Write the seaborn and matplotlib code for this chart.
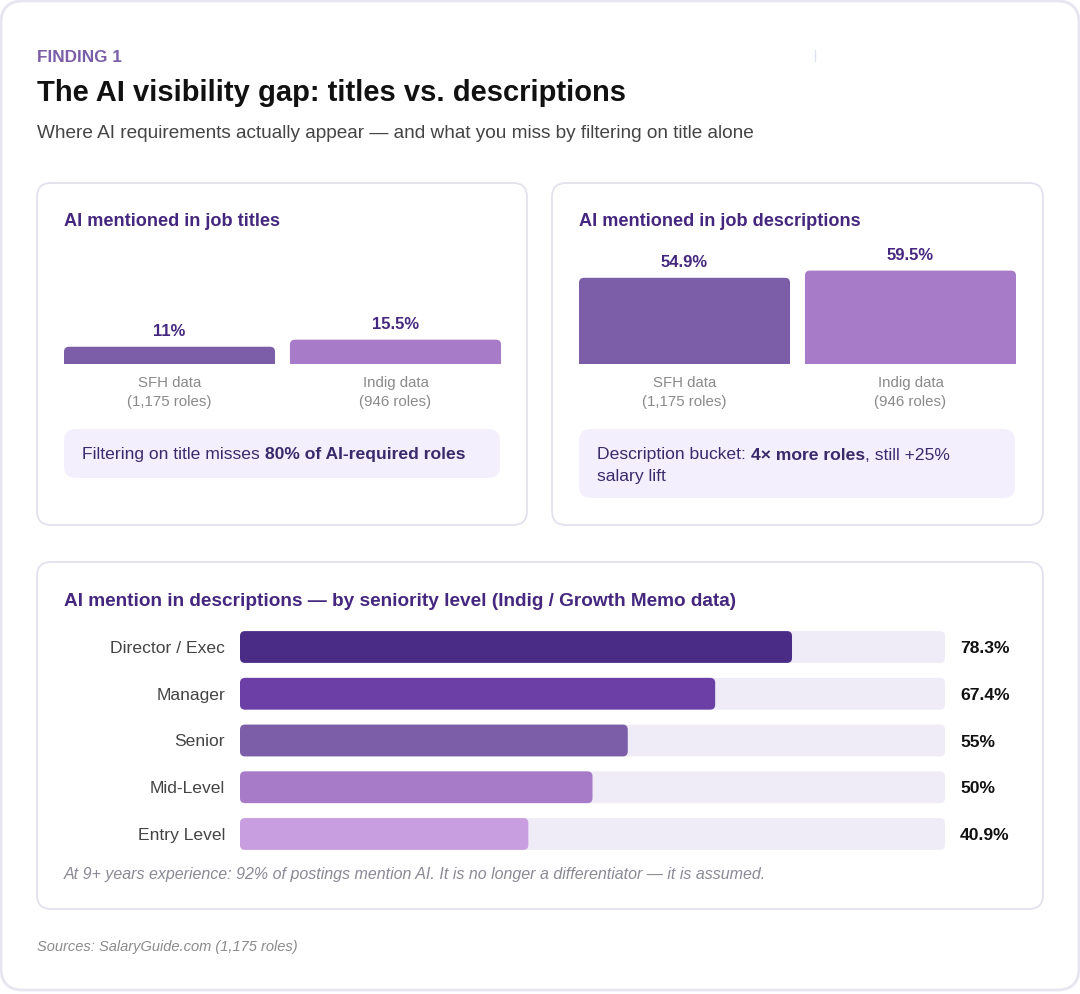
import matplotlib
matplotlib.use("Agg")
import matplotlib.pyplot as plt
import seaborn as sns
import pandas as pd
from matplotlib.patches import FancyBboxPatch, Rectangle

# Data
sources = ["SFH data", "Indig data"]
source_roles = ["(1,175 roles)", "(946 roles)"]
title_pct = [11, 15.5]
desc_pct = [54.9, 59.5]
title_labels = ["11%", "15.5%"]
desc_labels = ["54.9%", "59.5%"]

levels = ["Director / Exec", "Manager", "Senior", "Mid-Level", "Entry Level"]
level_pct = [78.3, 67.4, 55, 50, 40.9]
level_labels = ["78.3%", "67.4%", "55%", "50%", "40.9%"]
track_max = 100

# Colours
source_colors = ["#7b5ea7", "#a77bc8"]
level_colors = ["#4a2c87", "#6b3fa5", "#7b5ea7", "#a77bc8", "#c89ee0"]
track_color = "#efebf7"
dark_purple = "#45277f"
callout_text = "#3a2a6b"
border = "#e4e1ee"

sns.set_theme(style="white")
plt.rcParams["font.family"] = ["Liberation Sans", "DejaVu Sans"]

W, H = 1080, 994
fig = plt.figure(figsize=(W / 100, H / 100), dpi=100)
fig.patch.set_facecolor("white")

# background axes in pixel coordinates
bg = fig.add_axes([0, 0, 1, 1])
bg.set_xlim(0, W)
bg.set_ylim(H, 0)
bg.axis("off")
DY = 2  # small nudge so centred text sits like the reference


def card(x0, y0, x1, y1, r, fc="white", ec=border, lw=1.3):
    bg.add_patch(FancyBboxPatch((x0 + r, y0 + r), x1 - x0 - 2 * r, y1 - y0 - 2 * r,
                                boxstyle=f"round,pad={r}", fc=fc, ec=ec, lw=lw))


def px_axes(x0, y0, x1, y1):
    return fig.add_axes([x0 / W, 1 - y1 / H, (x1 - x0) / W, (y1 - y0) / H])


def label(x, y, s, **kw):
    return bg.text(x, y + DY, s, va="center", **kw)


def round_bars(ax, r_px, ux, uy, square_bottom=False):
    # replace seaborn's rectangles with rounded ones of the same geometry
    for p in list(ax.patches):
        if not isinstance(p, Rectangle):
            continue
        x, y, w, h = p.get_x(), p.get_y(), p.get_width(), p.get_height()
        if h < 0:
            y, h = y + h, -h
        c = p.get_facecolor()
        z = p.get_zorder()
        p.remove()
        r = r_px * ux
        ax.add_patch(FancyBboxPatch((x + r, y + r_px * uy), w - 2 * r, h - 2 * r_px * uy,
                                    boxstyle=f"round,pad={r}", mutation_aspect=uy / ux,
                                    fc=c, ec="none", zorder=z))
        if square_bottom:
            ax.add_patch(Rectangle((x, y), w, h / 2, fc=c, ec="none", zorder=z))


# outer frame
card(1, 1, 1079, 990, 22, ec="#e8e5f0", lw=2)

# header
label(37, 56, "FINDING 1", color="#7b5ea7", fontsize=12.3, fontweight="bold")
label(37, 91, "The AI visibility gap: titles vs. descriptions", color="#111111",
      fontsize=21, fontweight="bold")
label(37, 131, "Where AI requirements actually appear \u2014 and what you miss by filtering on title alone",
      color="#444444", fontsize=13.7)
bg.plot([815, 815], [50, 61], color="#dde3f0", lw=1)

# cards
card(37, 183, 527, 525, 14)
card(552, 183, 1043, 525, 14)
card(37, 562, 1043, 909, 14)

label(64, 219, "AI mentioned in job titles", color=dark_purple, fontsize=13.1, fontweight="bold")
label(579, 219, "AI mentioned in job descriptions", color=dark_purple, fontsize=13.1,
      fontweight="bold")
label(64, 599, "AI mention in descriptions \u2014 by seniority level (Indig / Growth Memo data)",
      color=dark_purple, fontsize=13.7, fontweight="bold")

# top bar charts
px_per_pct = 1.57
top_h = 124
for x0, vals, labs in [(64, title_pct, title_labels), (579, desc_pct, desc_labels)]:
    ax = px_axes(x0, 364 - top_h, x0 + 437, 364)
    df = pd.DataFrame({"source": sources, "pct": vals})
    sns.barplot(data=df, x="source", y="pct", hue="source", palette=source_colors,
                width=0.934, legend=False, ax=ax, saturation=1)
    ax.set_xlim(-0.467, 1.467)
    ax.set_ylim(0, top_h / px_per_pct)
    ax.axis("off")
    round_bars(ax, 5, 1.934 / 437, (top_h / px_per_pct) / top_h, square_bottom=True)
    for i, (v, lab) in enumerate(zip(vals, labs)):
        ax.annotate(lab, (i, v), xytext=(0, 15 * 0.72), textcoords="offset points",
                    ha="center", va="center", fontsize=12, fontweight="bold", color=dark_purple)
        ax.annotate(sources[i], (i, 0), xytext=(0, -19 * 0.72), textcoords="offset points",
                    ha="center", va="center", fontsize=10.8, color="#8a8a8a", annotation_clip=False)
        ax.annotate(source_roles[i], (i, 0), xytext=(0, -38 * 0.72), textcoords="offset points",
                    ha="center", va="center", fontsize=10.8, color="#8a8a8a", annotation_clip=False)

# callouts
card(64, 429, 500, 478, 12, fc="#f3effd", ec="none")
card(579, 429, 1015, 498, 12, fc="#f3effd", ec="none")

renderer = fig.canvas.get_renderer()


def rich_line(x, y, parts):
    for txt, bold in parts:
        t = label(x, y, txt, color=callout_text, fontsize=12.6,
                  fontweight="bold" if bold else "normal")
        x += t.get_window_extent(renderer).width


rich_line(82, 453, [("Filtering on title misses ", False), ("80% of AI-required roles", True)])
rich_line(597, 453, [("Description bucket: ", False), ("4\u00d7 more roles", True), (", still +25%", False)])
rich_line(597, 474, [("salary lift", False)])

# seniority bars
row_gap = 46.75
ax3 = px_axes(240, 647 - row_gap / 2, 945, 834 + row_gap / 2)
df3 = pd.DataFrame({"level": levels, "pct": level_pct, "track": [track_max] * len(levels)})
sns.barplot(data=df3, y="level", x="track", color=track_color, width=0.68, ax=ax3, saturation=1)
sns.barplot(data=df3, y="level", x="pct", hue="level", palette=level_colors, width=0.68,
            legend=False, ax=ax3, saturation=1)
ax3.set_xlim(0, track_max)
ax3.set_ylim(4.5, -0.5)
round_bars(ax3, 5, track_max / 705, 5 / (row_gap * 5))
for s in ax3.spines.values():
    s.set_visible(False)
ax3.set_xticks([])
ax3.set_xlabel("")
ax3.set_ylabel("")
ax3.tick_params(axis="y", length=0, pad=15 * 0.72, labelsize=12.6, labelcolor="#444444")
for i, lab in enumerate(level_labels):
    ax3.annotate(lab, (track_max, i), xytext=(15 * 0.72, -1.2), textcoords="offset points",
                 ha="left", va="center", fontsize=12.6, fontweight="bold", color="#111111",
                 annotation_clip=False)

label(64, 872, "At 9+ years experience: 92% of postings mention AI. It is no longer a differentiator \u2014 it is assumed.",
      color="#8a8a96", fontsize=11.5, style="italic")
label(37, 945, "Sources: SalaryGuide.com (1,175 roles)", color="#8a8a8a", fontsize=10.5,
      style="italic")

fig.savefig("out.png", dpi=100, facecolor="white")
